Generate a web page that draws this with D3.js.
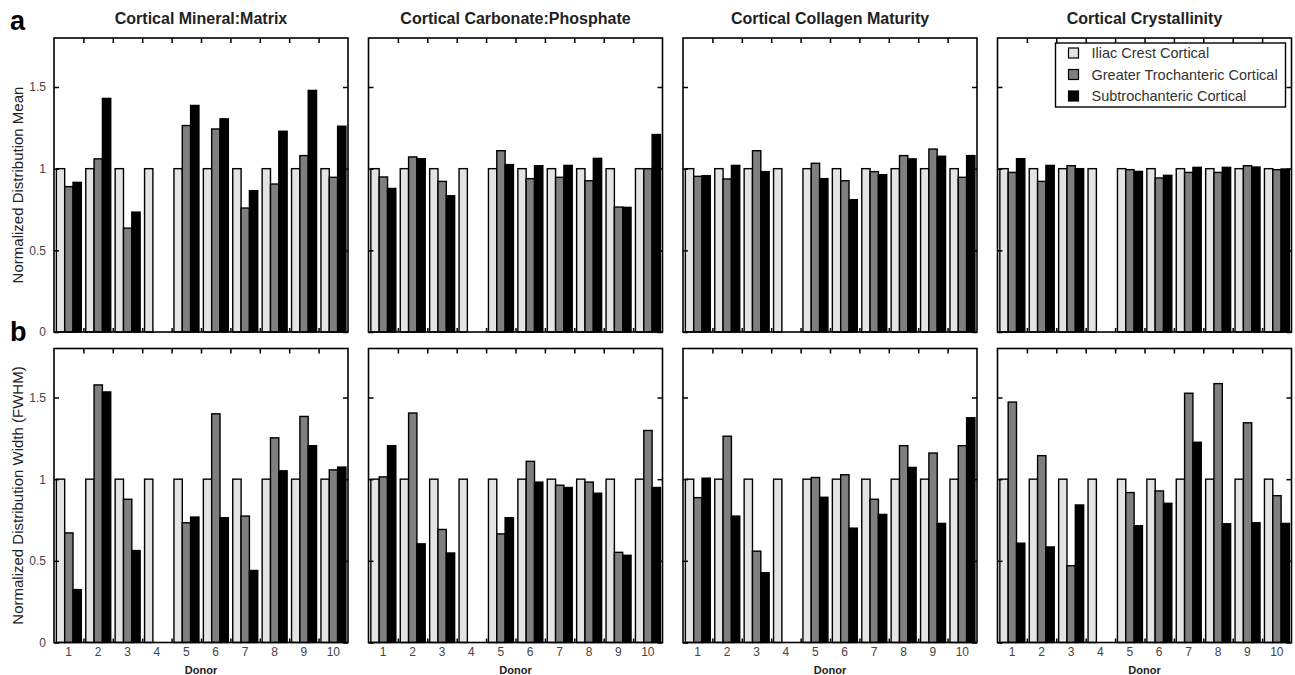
<!DOCTYPE html>
<html>
<head>
<meta charset="utf-8">
<script src="https://cdnjs.cloudflare.com/ajax/libs/d3/7.8.5/d3.min.js"></script>
<style>
	body { margin: 0; background: #fff; }
	svg text { font-family: "Liberation Sans", Arial, Helvetica, sans-serif; }
</style>
</head>
<body>
<div id="chart"></div>
<script>
var donors = ["1", "2", "3", "4", "5", "6", "7", "8", "9", "10"];
var seriesNames = ["Iliac Crest Cortical", "Greater Trochanteric Cortical", "Subtrochanteric Cortical"];
var titles = ["Cortical Mineral:Matrix", "Cortical Carbonate:Phosphate", "Cortical Collagen Maturity", "Cortical Crystallinity"];
var rowLetters = ["a", "b"];
var rowLabels = ["Normalized Distribution Mean", "Normalized Distribution Width (FWHM)"];
var yTickValues = [0, 0.5, 1, 1.5];

// iliac crest is the reference, so it is 1 everywhere
var iliac = [1, 1, 1, 1, 1, 1, 1, 1, 1, 1];

// row a: distribution means (donor 4 has no femoral samples)
var meanMineralGT = [0.89, 1.06, 0.636, null, 1.264, 1.243, 0.759, 0.906, 1.08, 0.947];
var meanMineralST = [0.916, 1.43, 0.734, null, 1.387, 1.305, 0.865, 1.229, 1.479, 1.26];
var meanCarbGT = [0.949, 1.072, 0.922, null, 1.11, 0.939, 0.947, 0.926, 0.765, 1.0];
var meanCarbST = [0.879, 1.061, 0.834, null, 1.025, 1.018, 1.02, 1.063, 0.763, 1.209];
var meanCollGT = [0.953, 0.937, 1.11, null, 1.033, 0.926, 0.982, 1.08, 1.12, 0.947];
var meanCollST = [0.957, 1.02, 0.982, null, 0.939, 0.81, 0.963, 1.06, 1.076, 1.08];
var meanCrystGT = [0.977, 0.922, 1.018, null, 0.994, 0.943, 0.977, 0.977, 1.018, 0.994];
var meanCrystST = [1.061, 1.02, 1.0, null, 0.983, 0.959, 1.008, 1.008, 1.01, 0.998];

// row b: distribution widths (FWHM)
var widthMineralGT = [0.671, 1.577, 0.877, null, 0.733, 1.40, 0.774, 1.253, 1.384, 1.057];
var widthMineralST = [0.324, 1.534, 0.563, null, 0.768, 0.764, 0.441, 1.051, 1.205, 1.074];
var widthCarbGT = [1.014, 1.405, 0.692, null, 0.665, 1.109, 0.963, 0.982, 0.552, 1.298];
var widthCarbST = [1.205, 0.604, 0.548, null, 0.764, 0.982, 0.949, 0.914, 0.534, 0.949];
var widthCollGT = [0.887, 1.263, 0.559, null, 1.01, 1.027, 0.877, 1.205, 1.16, 1.205];
var widthCollST = [1.006, 0.774, 0.427, null, 0.889, 0.70, 0.784, 1.072, 0.729, 1.376];
var widthCrystGT = [1.472, 1.144, 0.470, null, 0.918, 0.928, 1.526, 1.585, 1.345, 0.899];
var widthCrystST = [0.608, 0.585, 0.842, null, 0.715, 0.852, 1.226, 0.727, 0.733, 0.729];

var panels = [
	[[iliac, meanMineralGT, meanMineralST], [iliac, meanCarbGT, meanCarbST], [iliac, meanCollGT, meanCollST], [iliac, meanCrystGT, meanCrystST]],
	[[iliac, widthMineralGT, widthMineralST], [iliac, widthCarbGT, widthCarbST], [iliac, widthCollGT, widthCollST], [iliac, widthCrystGT, widthCrystST]]
];

(function() {
	var width = 1295,
		height = 675;

	var colors = ["#e4e4e4", "#7f7f7f", "#000000"];
	var panelLeft = [54, 368.5, 683, 997.5],
		rowTop = [38, 348.5],
		size = 294;

	var svg = d3.select("#chart")
		.append("svg")
		.attr("width", width)
		.attr("height", height)

	var x = d3.scaleBand().domain(donors).range([0, size])
	var xSub = d3.scaleBand().domain(d3.range(seriesNames.length))
		.range([x.bandwidth() * 0.08, x.bandwidth() * 0.93])
	// linear version of the donor axis, used for ticks between the groups
	var xIndex = d3.scaleLinear().domain([0.5, donors.length + 0.5]).range([0, size])
	var boundaries = d3.range(1.5, donors.length, 1)
	var y = d3.scaleLinear().domain([0, 1.8]).range([size, 0])

	panels.forEach(function(row, r) {
		svg.append("text")
			.attr("x", 10)
			.attr("y", rowTop[r] - 8)
			.attr("font-size", 27)
			.attr("font-weight", "bold")
			.text(rowLetters[r])

		svg.append("text")
			.attr("transform", "translate(23," + (rowTop[r] + size / 2) + ") rotate(-90)")
			.attr("text-anchor", "middle")
			.attr("font-size", 15)
			.attr("fill", "#222")
			.text(rowLabels[r])

		row.forEach(function(values, c) {
			var g = svg.append("g")
				.attr("transform", "translate(" + panelLeft[c] + "," + rowTop[r] + ")")

			if (r === 0) {
				g.append("text")
					.attr("x", size / 2)
					.attr("y", -14)
					.attr("text-anchor", "middle")
					.attr("font-size", 16)
					.attr("font-weight", "bold")
					.attr("fill", "#222")
					.text(titles[c])
			}

			// bars, one group per donor
			values.forEach(function(serie, s) {
				g.selectAll(".bar" + s)
					.data(donors.map(function(d, i) { return { donor: d, value: serie[i] }; })
						.filter(function(d) { return d.value != null; }))
					.enter().append("rect")
					.attr("x", function(d) { return x(d.donor) + xSub(s); })
					.attr("y", function(d) { return y(d.value); })
					.attr("width", xSub.bandwidth())
					.attr("height", function(d) { return size - y(d.value); })
					.attr("fill", colors[s])
					.attr("stroke", "#000")
					.attr("stroke-width", 1.4)
			})

			// inward ticks on all four sides
			var left = g.append("g")
				.call(d3.axisLeft(y).tickValues(yTickValues).tickSize(-5).tickPadding(8)
					.tickFormat(c === 0 ? d3.format("") : function() { return ""; }))
			var right = g.append("g")
				.attr("transform", "translate(" + size + ",0)")
				.call(d3.axisRight(y).tickValues(yTickValues).tickSize(-5).tickFormat(""))
			var top = g.append("g")
				.call(d3.axisTop(xIndex).tickValues(boundaries).tickSize(-5).tickFormat(""))
			var bottom = g.append("g")
				.attr("transform", "translate(0," + size + ")")
				.call(d3.axisBottom(xIndex).tickValues(boundaries).tickSize(-4).tickFormat(""))

			if (r === 1) {
				var labels = g.append("g")
					.attr("transform", "translate(0," + size + ")")
					.call(d3.axisBottom(x).tickSize(0).tickPadding(5))
				labels.select(".domain").remove()
				labels.selectAll("text")
					.attr("font-size", 12)
					.attr("fill", "#444")
					.attr("font-family", null)

				g.append("text")
					.attr("x", size / 2)
					.attr("y", size + 31)
					.attr("text-anchor", "middle")
					.attr("font-size", 11)
					.attr("font-weight", "bold")
					.attr("fill", "#222")
					.text("Donor")
			}

			[left, right, top, bottom].forEach(function(a) {
				a.select(".domain").remove()
				a.selectAll("line").attr("stroke", "#000").attr("stroke-width", 1.5)
			})
			left.selectAll("text")
				.attr("font-size", 12)
				.attr("fill", "#444")
				.attr("font-family", null)

			// frame on top of the bars
			g.append("rect")
				.attr("width", size)
				.attr("height", size)
				.attr("fill", "none")
				.attr("stroke", "#000")
				.attr("stroke-width", 1.6)

			// legend only in the crystallinity panel of row a
			if (r === 0 && c === 3) {
				var legend = g.append("g")
					.attr("transform", "translate(58,5)")
				legend.append("rect")
					.attr("width", 230)
					.attr("height", 64)
					.attr("fill", "#fff")
					.attr("stroke", "#000")
					.attr("stroke-width", 1.4)
				var items = legend.selectAll(".item")
					.data(seriesNames)
					.enter().append("g")
					.attr("class", "item")
					.attr("transform", function(d, i) { return "translate(0," + (5 + i * 21.5) + ")"; })
				items.append("rect")
					.attr("x", 13)
					.attr("y", 0)
					.attr("width", 10)
					.attr("height", 10)
					.attr("fill", function(d, i) { return colors[i]; })
					.attr("stroke", "#000")
					.attr("stroke-width", 1.2)
				items.append("text")
					.attr("x", 36)
					.attr("y", 10)
					.attr("font-size", 14.5)
					.attr("fill", "#333")
					.text(function(d) { return d; })
			}
		})
	})
}) ();
</script>
</body>
</html>
